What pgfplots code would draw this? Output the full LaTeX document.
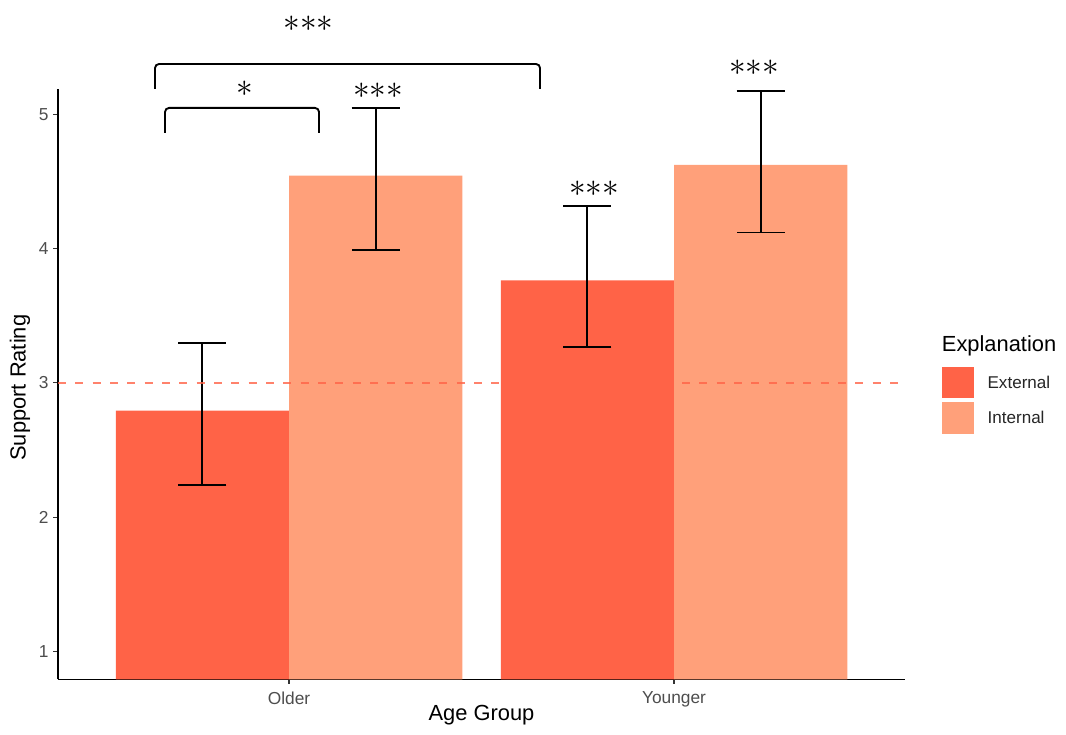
\documentclass[border=0pt]{standalone}
\usepackage{fontspec}
\setmainfont{Liberation Sans}
\usepackage{pgfplots}
\pgfplotsset{compat=1.18}
\definecolor{extc}{HTML}{FF6347}
\definecolor{intc}{HTML}{FFA07A}
\definecolor{tickc}{HTML}{4D4D4D}
\begin{document}
\begin{tikzpicture}
\begin{axis}[
  scale only axis, width=635.25pt, height=442.7pt,
  xmin=0.4, xmax=2.6, ymin=0.794, ymax=5.188,
  axis x line*=bottom, axis y line*=left,
  axis line style={black, line width=1pt},
  xtick={1,2}, xticklabels={Older,Younger},
  ytick={1,2,3,4,5},
  tick align=outside, major tick length=3.5pt,
  tick style={color=black!80, line width=0.8pt},
  ticklabel style={color=tickc, font=\fontsize{13}{15}\selectfont},
  xticklabel style={yshift=-2.2pt},
  /pgf/number format/assume math mode=true,
  xlabel={Age Group}, ylabel={Support Rating},
  label style={font=\fontsize{16.4}{19}\selectfont, color=black},
  xlabel style={at={(axis description cs:0.5,-0.0701)}, anchor=base},
  ylabel style={at={(axis description cs:-0.0449,0.494)}, anchor=center},
  clip mode=individual,
]
% External
\addplot[ybar, bar shift=0pt, bar width=0.45, fill=extc, draw=none,
  error bars/.cd, y dir=both, y explicit,
  error bar style={black, line width=1.4pt},
  error mark options={rotate=90, black, mark size=18pt, line width=1.4pt}]
  coordinates {(0.775,2.794) += (0,0.500) -= (0,0.552)
               (1.775,3.763) += (0,0.557) -= (0,0.498)};
% Internal
\addplot[ybar, bar shift=0pt, bar width=0.45, fill=intc, draw=none,
  error bars/.cd, y dir=both, y explicit,
  error bar style={black, line width=1.4pt},
  error mark options={rotate=90, black, mark size=18pt, line width=1.4pt}]
  coordinates {(1.225,4.543) += (0,0.504) -= (0,0.552)
               (2.225,4.623) += (0,0.552) -= (0,0.503)};
% reference line
\addplot[extc, opacity=0.8, line width=1.5pt, dash pattern=on 6pt off 7pt]
  coordinates {(0.4,3) (2.6,3)};
% significance brackets
\draw[black, line width=1.4pt, rounded corners=3pt]
  (axis cs:0.652,5.188) -- (axis cs:0.652,5.374) -- (axis cs:1.652,5.374) -- (axis cs:1.652,5.188);
\draw[black, line width=1.4pt, rounded corners=3pt]
  (axis cs:0.678,4.861) -- (axis cs:0.678,5.047) -- (axis cs:1.078,5.047) -- (axis cs:1.078,4.861);
\node[font=\fontsize{24}{26}\selectfont] at (axis cs:1.051,5.676) {${\ast}{\ast}{\ast}$};
\node[font=\fontsize{24}{26}\selectfont] at (axis cs:0.886,5.188) {${\ast}$};
\node[font=\fontsize{24}{26}\selectfont] at (axis cs:1.231,5.175) {${\ast}{\ast}{\ast}$};
\node[font=\fontsize{24}{26}\selectfont] at (axis cs:1.792,4.442) {${\ast}{\ast}{\ast}$};
\node[font=\fontsize{24}{26}\selectfont] at (axis cs:2.208,5.349) {${\ast}{\ast}{\ast}$};
% legend
\fill[extc] (rel axis cs:1.0433,0.4770) rectangle (rel axis cs:1.0815,0.5296);
\fill[intc] (rel axis cs:1.0433,0.4155) rectangle (rel axis cs:1.0815,0.4703);
\node[anchor=base west, inner sep=0pt, font=\fontsize{16.4}{19}\selectfont] at (rel axis cs:1.0433,0.5550) {Explanation};
\node[anchor=base west, inner sep=0pt, font=\fontsize{12.8}{15}\selectfont, color=black!85] at (rel axis cs:1.0972,0.4930) {External};
\node[anchor=base west, inner sep=0pt, font=\fontsize{12.8}{15}\selectfont, color=black!85] at (rel axis cs:1.0972,0.4325) {Internal};
% picture extent
\coordinate (bbsw) at (rel axis cs:-0.06848,-0.09436);
\coordinate (bbne) at (rel axis cs:1.19008,1.15077);
\end{axis}
\pgfresetboundingbox
\path[use as bounding box] (bbsw) rectangle (bbne);
\end{tikzpicture}
\end{document}
